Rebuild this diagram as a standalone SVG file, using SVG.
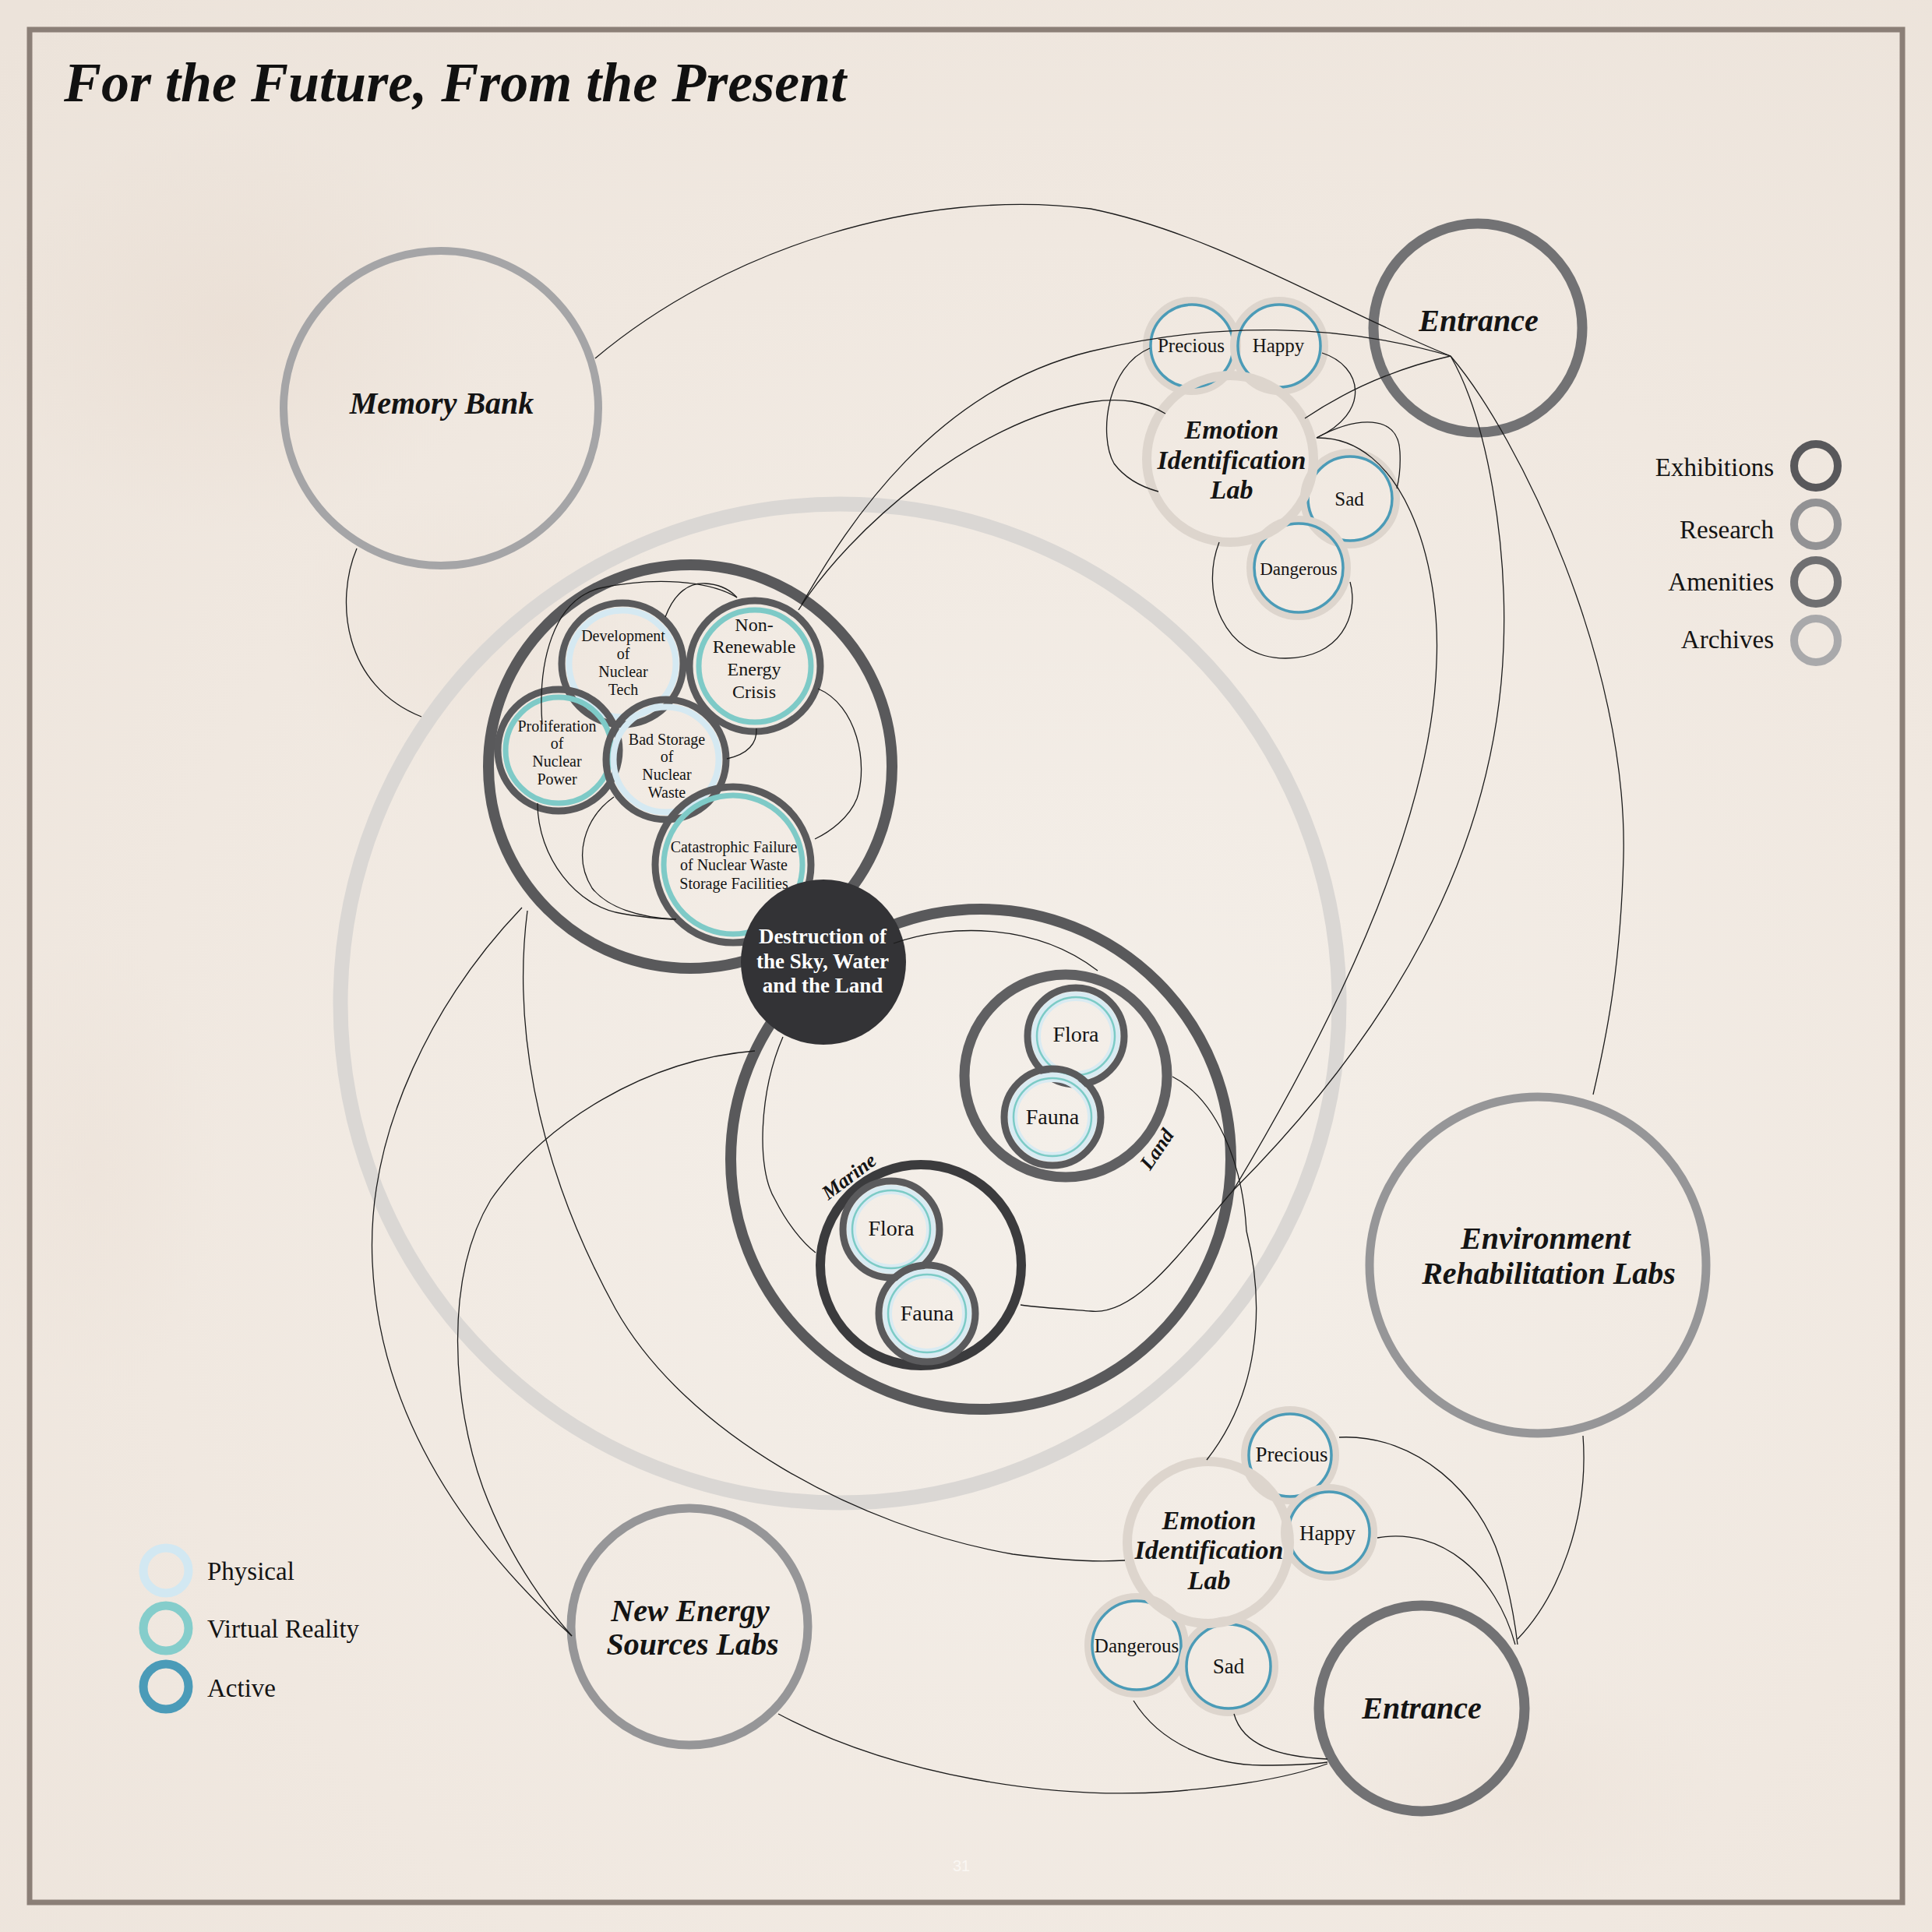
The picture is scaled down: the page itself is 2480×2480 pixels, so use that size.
<svg xmlns="http://www.w3.org/2000/svg" width="2480" height="2480" viewBox="0 0 2480 2480">
<defs>
<radialGradient id="paper" cx="0.55" cy="0.6" r="0.8">
<stop offset="0" stop-color="#f4efe9"/>
<stop offset="0.6" stop-color="#f0e8e0"/>
<stop offset="1" stop-color="#ece3da"/>
</radialGradient>
<radialGradient id="stain" cx="0.5" cy="0.5" r="0.5">
<stop offset="0" stop-color="#e2d1c3" stop-opacity="0.45"/>
<stop offset="1" stop-color="#e2d1c3" stop-opacity="0"/>
</radialGradient>
<style>
.conn{fill:none;stroke:#1c1c1c;stroke-width:1.3}
.txt{font-family:"Liberation Serif","DejaVu Serif",serif;fill:#141414;text-anchor:middle}
.bi{font-weight:bold;font-style:italic}
.ring{fill:none}
.archive{fill:none;stroke:#dad7d4;stroke-width:19}
.exh{fill:none;stroke:#59595b;stroke-width:14}
.research{fill:none;stroke:#969698;stroke-width:11}
.amen{fill:none;stroke:#727274;stroke-width:13}
.dark{fill:none;stroke:#5a5a5c;stroke-width:9}
.lblue{fill:none;stroke:#d5e9f2;stroke-width:8}
.teal{fill:none;stroke:#7ecac7;stroke-width:7}
.lblue2{fill:none;stroke:#d9ebf2;stroke-width:12}
.teal2{fill:none;stroke:#7ccbc6;stroke-width:2.5}
.emobg{fill:none;stroke:#ddd5cd;stroke-width:10}
.emoact{fill:none;stroke:#4b9bb7;stroke-width:3.5}
.lab{fill:none;stroke:#ddd5cd;stroke-width:12}
.small{font-size:25px}
.nuc{font-size:20px}
.leg{font-family:"Liberation Serif","DejaVu Serif",serif;fill:#141414;font-size:33px}
.dtxt{font-family:"Liberation Serif","DejaVu Serif",serif;fill:#ffffff;font-weight:bold;text-anchor:middle;font-size:27px}
</style>
</defs>

<!-- background -->
<rect x="0" y="0" width="2480" height="2480" fill="url(#paper)"/>
<ellipse cx="300" cy="420" rx="320" ry="260" fill="url(#stain)" opacity="0.6"/>
<ellipse cx="620" cy="820" rx="260" ry="200" fill="url(#stain)" opacity="0.35"/>
<ellipse cx="1950" cy="2300" rx="260" ry="160" fill="url(#stain)" opacity="0.35"/>
<ellipse cx="120" cy="1500" rx="160" ry="300" fill="url(#stain)" opacity="0.3"/>
<rect x="38" y="38" width="2404" height="2404" fill="none" stroke="#8b7f77" stroke-width="7"/>

<text x="82" y="130" font-family="Liberation Serif, DejaVu Serif, serif" font-size="72" font-weight="bold" font-style="italic" fill="#111">For the Future, From the Present</text>

<!-- Archive big circle -->
<g id="archive-circle">
<circle cx="1078" cy="1288" r="641" class="archive"/>
</g>

<!-- Memory Bank -->
<g id="memory-bank">
<circle cx="566" cy="524" r="202" class="ring" stroke="#a5a5a7" stroke-width="10"/>
<text x="567" y="531" class="txt bi" font-size="40">Memory Bank</text>
</g>

<!-- Entrance top -->
<g id="entrance-top">
<circle cx="1897" cy="421" r="134" class="amen"/>
<text x="1898" y="425" class="txt bi" font-size="40">Entrance</text>
</g>

<!-- Emotion Identification Lab (top) -->
<g id="emotion-lab-top">
<g id="precious-top"><circle cx="1530" cy="444" r="58" class="emobg"/><circle cx="1530" cy="444" r="53" class="emoact"/></g>
<g id="happy-top"><circle cx="1642" cy="444" r="58" class="emobg"/><circle cx="1642" cy="444" r="53" class="emoact"/></g>
<g id="sad-top"><circle cx="1733" cy="640" r="59" class="emobg"/><circle cx="1733" cy="640" r="54" class="emoact"/></g>
<g id="dangerous-top"><circle cx="1667" cy="729" r="62" class="emobg"/><circle cx="1667" cy="729" r="57" class="emoact"/></g>
<circle cx="1579" cy="589" r="107" class="lab"/>
<text x="1529" y="452" class="txt small">Precious</text>
<text x="1641" y="452" class="txt small">Happy</text>
<text x="1732" y="649" class="txt small">Sad</text>
<text x="1667" y="738" class="txt" font-size="23">Dangerous</text>
<text x="1581" y="563" class="txt bi" font-size="34">Emotion</text>
<text x="1581" y="602" class="txt bi" font-size="34">Identification</text>
<text x="1581" y="640" class="txt bi" font-size="34">Lab</text>
</g>

<!-- Nuclear group -->
<g id="nuclear-group">
<circle cx="886" cy="984" r="259" class="exh"/>
<g id="development"><circle cx="799" cy="852" r="68.5" class="lblue"/><circle cx="799" cy="852" r="78" class="dark"/>
<text class="txt nuc" x="800" y="823">Development</text><text class="txt nuc" x="800" y="846">of</text><text class="txt nuc" x="800" y="869">Nuclear</text><text class="txt nuc" x="800" y="892">Tech</text></g>
<g id="non-renewable"><circle cx="969" cy="855" r="72" class="teal"/><circle cx="969" cy="855" r="84" class="dark"/>
<text class="txt" font-size="24" x="968" y="810">Non-</text><text class="txt" font-size="24" x="968" y="838">Renewable</text><text class="txt" font-size="24" x="968" y="867">Energy</text><text class="txt" font-size="24" x="968" y="896">Crisis</text></g>
<g id="proliferation"><circle cx="717" cy="963" r="68" class="teal"/><circle cx="717" cy="963" r="78" class="dark"/>
<text class="txt nuc" x="715" y="939">Proliferation</text><text class="txt nuc" x="715" y="961">of</text><text class="txt nuc" x="715" y="984">Nuclear</text><text class="txt nuc" x="715" y="1007">Power</text></g>
<g id="bad-storage"><circle cx="855" cy="975" r="67.5" class="lblue"/><circle cx="855" cy="975" r="77" class="dark"/>
<text class="txt nuc" x="856" y="956">Bad Storage</text><text class="txt nuc" x="856" y="978">of</text><text class="txt nuc" x="856" y="1001">Nuclear</text><text class="txt nuc" x="856" y="1024">Waste</text></g>
<g id="catastrophic"><circle cx="941" cy="1110" r="89" class="teal"/><circle cx="941" cy="1110" r="100" class="dark"/>
<text class="txt nuc" x="942" y="1094">Catastrophic Failure</text><text class="txt nuc" x="942" y="1117">of Nuclear Waste</text><text class="txt nuc" x="942" y="1141">Storage Facilities</text></g>
</g>

<!-- Destruction group -->
<g id="destruction-group">
<circle cx="1259" cy="1488" r="321" class="exh"/>
<g id="land">
<circle cx="1368" cy="1381" r="130" class="ring" stroke="#606062" stroke-width="13"/>
<g id="flora-land"><circle cx="1381" cy="1330" r="51" class="lblue2"/><circle cx="1381" cy="1330" r="50" class="teal2"/><circle cx="1381" cy="1330" r="62" class="dark" stroke="#626264"/></g>
<g id="fauna-land"><circle cx="1351" cy="1434" r="51" class="lblue2"/><circle cx="1351" cy="1434" r="50" class="teal2"/><circle cx="1351" cy="1434" r="62" class="dark" stroke="#626264"/></g>
<text class="txt" font-size="28" x="1381" y="1337">Flora</text>
<text class="txt" font-size="28" x="1351" y="1443">Fauna</text>
<text class="txt bi" font-size="26" transform="translate(1492,1480) rotate(-56)">Land</text>
</g>
<g id="marine">
<circle cx="1182" cy="1624" r="129" class="ring" stroke="#3b3b3d" stroke-width="12"/>
<g id="flora-marine"><circle cx="1144" cy="1578" r="51" class="lblue2"/><circle cx="1144" cy="1578" r="50" class="teal2"/><circle cx="1144" cy="1578" r="62" class="dark" stroke="#646466"/></g>
<g id="fauna-marine"><circle cx="1190" cy="1686" r="51" class="lblue2"/><circle cx="1190" cy="1686" r="50" class="teal2"/><circle cx="1190" cy="1686" r="62" class="dark" stroke="#646466"/></g>
<text class="txt" font-size="28" x="1144" y="1586">Flora</text>
<text class="txt" font-size="28" x="1190" y="1695">Fauna</text>
<text class="txt bi" font-size="26" transform="translate(1095,1517) rotate(-37)">Marine</text>
</g>
</g>

<!-- Destruction node -->
<g id="destruction">
<circle cx="1057" cy="1235" r="106" fill="#333336"/>
<text x="1056" y="1211" class="dtxt">Destruction of</text>
<text x="1056" y="1243" class="dtxt">the Sky, Water</text>
<text x="1056" y="1274" class="dtxt">and the Land</text>
</g>

<!-- Environment Rehabilitation Labs -->
<g id="environment-labs">
<circle cx="1974" cy="1624" r="216" class="research"/>
<text x="1984" y="1603" class="txt bi" font-size="40">Environment</text>
<text x="1988" y="1648" class="txt bi" font-size="40">Rehabilitation Labs</text>
</g>

<!-- New Energy Sources Labs -->
<g id="new-energy-labs">
<circle cx="885" cy="2088" r="152" class="research" stroke="#939395" stroke-width="12"/>
<text x="886" y="2081" class="txt bi" font-size="40">New Energy</text>
<text x="889" y="2124" class="txt bi" font-size="40">Sources Labs</text>
</g>

<!-- Emotion Identification Lab (bottom) -->
<g id="emotion-lab-bottom">
<g id="precious-bottom"><circle cx="1656" cy="1868" r="58" class="emobg"/><circle cx="1656" cy="1868" r="53" class="emoact"/></g>
<g id="happy-bottom"><circle cx="1706" cy="1967" r="57" class="emobg"/><circle cx="1706" cy="1967" r="52" class="emoact"/></g>
<g id="dangerous-bottom"><circle cx="1459" cy="2112" r="62" class="emobg"/><circle cx="1459" cy="2112" r="57" class="emoact"/></g>
<g id="sad-bottom"><circle cx="1577" cy="2139" r="59" class="emobg"/><circle cx="1577" cy="2139" r="54" class="emoact"/></g>
<circle cx="1551" cy="1980" r="104" class="lab"/>
<text x="1658" y="1876" class="txt" font-size="27">Precious</text>
<text x="1704" y="1977" class="txt" font-size="27">Happy</text>
<text x="1459" y="2121" class="txt" font-size="25">Dangerous</text>
<text x="1577" y="2148" class="txt" font-size="27">Sad</text>
<text x="1552" y="1963" class="txt bi" font-size="34">Emotion</text>
<text x="1552" y="2001" class="txt bi" font-size="34">Identification</text>
<text x="1552" y="2040" class="txt bi" font-size="34">Lab</text>
</g>

<!-- Entrance bottom -->
<g id="entrance-bottom">
<circle cx="1825" cy="2193" r="132" class="amen" stroke="#7b7b7d" stroke-width="12"/>
<text x="1825" y="2206" class="txt bi" font-size="40">Entrance</text>
</g>

<!-- Connectors -->
<g id="connectors">
<path class="conn" d="M764,460 C930,320 1180,240 1400,268 C1560,300 1720,400 1862,457"/>
<path class="conn" d="M1029,776 C1090,670 1200,500 1400,451 C1560,412 1720,415 1862,457"/>
<path class="conn" d="M1025,783 C1090,680 1250,540 1400,516 C1440,510 1470,515 1496,531"/>
<path class="conn" d="M1862,457 Q1760,480 1675,537"/>
<path class="conn" d="M1476,447 C1420,470 1410,560 1430,595 C1445,615 1465,625 1487,631"/>
<path class="conn" d="M1697,453 C1750,470 1760,530 1690,562"/>
<path class="conn" d="M1690,562 C1740,535 1795,530 1797,580 C1798,600 1796,615 1793,627"/>
<path class="conn" d="M1690,562 C1800,560 1850,720 1844,850 C1838,1050 1720,1300 1583,1528"/>
<path class="conn" d="M1862,457 C1910,540 1935,700 1930,830 C1920,1100 1780,1330 1583,1528 C1520,1600 1460,1690 1400,1683 C1360,1680 1330,1678 1310,1675"/>
<path class="conn" d="M1862,457 C1950,560 2090,850 2084,1100 C2080,1250 2060,1340 2045,1405"/>
<path class="conn" d="M1565,696 C1540,760 1570,845 1650,845 C1720,845 1745,790 1733,747"/>
<path class="conn" d="M458,704 C430,770 440,880 541,920"/>
<path class="conn" d="M696,930 C690,850 710,770 770,755 C840,740 910,745 946,767"/>
<path class="conn" d="M854,792 C866,760 885,748 905,749 C925,750 938,758 946,767"/>
<path class="conn" d="M971,935 C972,955 960,968 933,974"/>
<path class="conn" d="M1050,884 C1100,905 1115,980 1100,1025 C1090,1050 1065,1068 1046,1077"/>
<path class="conn" d="M690,1031 C690,1100 740,1165 800,1173 C830,1178 850,1180 868,1180"/>
<path class="conn" d="M788,1023 C750,1050 735,1100 760,1140 C780,1165 820,1178 868,1180"/>
<path class="conn" d="M670,1165 C560,1280 470,1450 478,1620 C486,1800 580,1960 734,2100"/>
<path class="conn" d="M969,1349 C830,1360 700,1440 630,1540 C570,1640 580,1800 620,1910 C650,1990 690,2050 734,2100"/>
<path class="conn" d="M677,1169 C660,1300 680,1480 790,1680 C880,1840 1100,1960 1300,1995 C1360,2003 1410,2005 1444,2003"/>
<path class="conn" d="M1005,1331 C975,1400 970,1500 995,1540 C1010,1570 1030,1595 1047,1608"/>
<path class="conn" d="M1147,1211 C1220,1185 1330,1185 1409,1246"/>
<path class="conn" d="M1505,1382 C1560,1410 1595,1490 1600,1580 C1625,1680 1615,1790 1549,1874"/>
<path class="conn" d="M999,2200 C1150,2280 1350,2310 1500,2300 C1590,2293 1660,2280 1704,2264"/>
<path class="conn" d="M1455,2183 C1490,2240 1560,2266 1620,2266 C1660,2266 1690,2264 1704,2262"/>
<path class="conn" d="M1584,2200 C1595,2240 1640,2255 1704,2258"/>
<path class="conn" d="M1719,1845 C1820,1840 1900,1920 1925,2000 C1940,2050 1945,2085 1948,2111"/>
<path class="conn" d="M1768,1974 C1850,1960 1920,2020 1945,2111"/>
<path class="conn" d="M2032,1843 C2040,1950 2000,2050 1948,2104"/>
</g>

<!-- Legend: categories -->
<g id="legend-categories">
<circle cx="2331" cy="598" r="28" fill="none" stroke="#58585b" stroke-width="10"/>
<circle cx="2331" cy="673" r="28" fill="none" stroke="#929294" stroke-width="10"/>
<circle cx="2331" cy="747" r="28" fill="none" stroke="#6f6f71" stroke-width="10"/>
<circle cx="2331" cy="822" r="28" fill="none" stroke="#a9a9ab" stroke-width="10"/>
<text x="2277" y="611" class="leg" text-anchor="end">Exhibitions</text>
<text x="2277" y="691" class="leg" text-anchor="end">Research</text>
<text x="2277" y="758" class="leg" text-anchor="end">Amenities</text>
<text x="2277" y="832" class="leg" text-anchor="end">Archives</text>
</g>

<!-- Legend: modes -->
<g id="legend-modes">
<circle cx="213" cy="2016" r="29" fill="none" stroke="#d2e8f2" stroke-width="11"/>
<circle cx="213" cy="2090" r="29" fill="none" stroke="#85cdcb" stroke-width="11"/>
<circle cx="213" cy="2165" r="29" fill="none" stroke="#4b9bb8" stroke-width="11"/>
<text x="266" y="2028" class="leg">Physical</text>
<text x="266" y="2102" class="leg">Virtual Reality</text>
<text x="266" y="2178" class="leg">Active</text>
</g>

<text x="1234" y="2402" font-family="Liberation Sans, sans-serif" font-size="20" fill="#faf7f3" text-anchor="middle">31</text>
</svg>
